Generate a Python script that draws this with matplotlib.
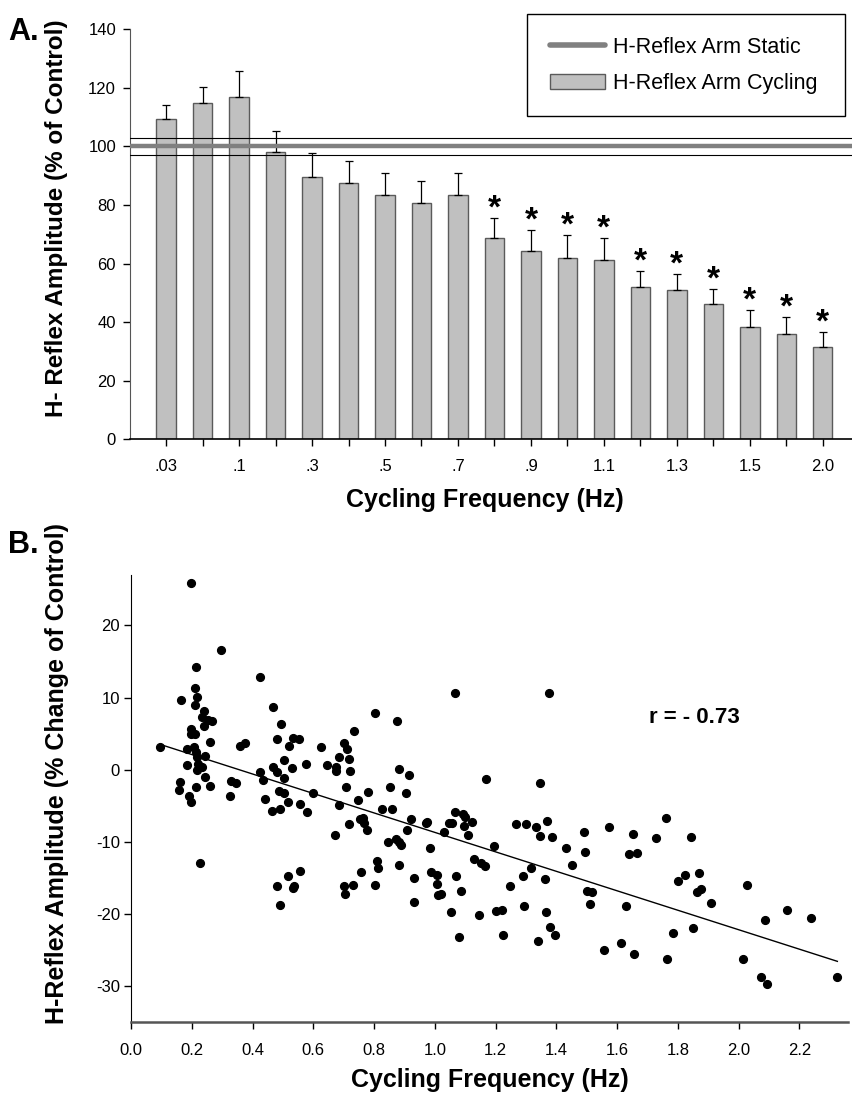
import matplotlib
matplotlib.use("Agg")
import matplotlib.pyplot as plt
from matplotlib.lines import Line2D
from matplotlib.patches import Patch
import numpy as np

plt.rcParams['font.family'] = ['Liberation Sans', 'DejaVu Sans']
plt.rcParams['axes.unicode_minus'] = False

# ---- panel A data ----
tick_labels = ['.03', '', '.1', '', '.3', '', '.5', '', '.7', '', '.9', '',
               '1.1', '', '1.3', '', '1.5', '', '2.0']
cycling_mean = [109.4, 114.7, 116.8, 98.1, 89.5, 87.5, 83.5, 80.8, 83.3, 68.8,
                64.2, 61.9, 61.3, 51.9, 51.1, 46.3, 38.4, 36.1, 31.4]
cycling_err = [4.8, 5.5, 8.8, 7.2, 8.3, 7.5, 7.4, 7.4, 7.6, 6.8,
               7.2, 7.9, 7.5, 5.6, 5.4, 5.1, 5.6, 5.7, 5.3]
significant = [False] * 9 + [True] * 10
static_mean = 100
static_sem = 3

# ---- panel B data ----
freq = [0.095, 0.197, 0.163, 0.214, 0.297, 0.423, 0.211, 0.218, 0.212, 0.241,
        0.233, 0.253, 0.267, 0.239, 0.199, 0.197, 0.211, 0.260, 0.185, 0.207,
        0.213, 0.218, 0.245, 0.184, 0.221, 0.235, 0.216, 0.243, 0.161, 0.158,
        0.214, 0.259, 0.191, 0.198, 0.226, 0.359, 0.375, 0.329, 0.344, 0.327,
        0.467, 0.493, 0.479, 0.520, 0.532, 0.554, 0.503, 0.530, 0.467, 0.482,
        0.423, 0.435, 0.503, 0.576, 0.625, 0.646, 0.675, 0.675, 0.685, 0.702,
        0.710, 0.718, 0.722, 0.734, 0.709, 0.781, 0.803, 0.851, 0.488, 0.503,
        0.599, 0.748, 0.440, 1.067, 1.376, 0.874, 0.882, 0.916, 0.905, 1.167,
        1.345, 0.463, 0.490, 0.516, 0.556, 0.580, 0.480, 0.490, 0.516, 0.533,
        0.538, 0.556, 0.673, 0.685, 0.701, 0.705, 0.718, 0.732, 0.756, 0.754,
        0.765, 0.767, 0.776, 0.802, 0.809, 0.812, 0.825, 0.845, 0.858, 0.871,
        0.881, 0.890, 0.882, 0.910, 0.921, 0.930, 0.930, 0.970, 0.974, 0.983,
        0.987, 1.006, 1.006, 1.009, 1.022, 1.030, 1.052, 1.047, 1.058, 1.065,
        1.071, 1.079, 1.086, 1.094, 1.098, 1.095, 1.108, 1.124, 1.129, 1.145,
        1.153, 1.164, 1.195, 1.201, 1.222, 1.225, 1.249, 1.268, 1.289, 1.292,
        1.300, 1.315, 1.332, 1.339, 1.345, 1.364, 1.367, 1.369, 1.379, 1.385,
        1.395, 1.432, 1.451, 1.491, 1.494, 1.500, 1.510, 1.518, 1.558, 1.572,
        1.614, 1.629, 1.638, 1.651, 1.656, 1.664, 1.728, 1.761, 1.763, 1.785,
        1.800, 1.824, 1.843, 1.851, 1.862, 1.870, 1.875, 1.909, 2.014, 2.026,
        2.075, 2.088, 2.093, 2.158, 2.239, 2.325]
change = [3.2, 25.9, 9.7, 14.3, 16.6, 12.8, 11.3, 10.1, 9.0, 8.1,
          7.3, 6.9, 6.7, 6.0, 5.6, 5.0, 5.0, 3.9, 2.9, 3.2,
          2.4, 1.8, 1.9, 0.6, 0.8, 0.3, 0.0, -1.0, -1.7, -2.8,
          -2.4, -2.3, -3.7, -4.5, -13.0, 3.3, 3.7, -1.6, -1.8, -3.6,
          8.7, 6.3, 4.2, 3.3, 4.4, 4.2, 1.4, 0.2, 0.3, -0.3,
          -0.3, -1.5, -1.2, 0.8, 3.1, 0.6, 0.4, -0.2, 1.8, 3.7,
          2.8, 1.5, -0.2, 5.3, -2.4, -3.1, 7.9, -2.4, -2.9, -3.2,
          -3.3, -4.2, -4.0, 10.6, 10.7, 6.8, 0.1, -0.8, -3.3, -1.3,
          -1.9, -5.7, -5.5, -4.5, -4.8, -5.9, -16.2, -18.8, -14.7, -16.4,
          -16.2, -14.1, -9.0, -4.9, -16.1, -17.2, -7.6, -16.0, -14.2, -6.9,
          -6.7, -7.4, -8.3, -16.0, -12.7, -13.6, -5.4, -10.1, -5.4, -9.6,
          -10.0, -10.5, -13.2, -8.4, -6.8, -15.0, -18.4, -7.4, -7.2, -10.8,
          -14.2, -14.6, -15.8, -17.4, -17.2, -8.7, -19.8, -7.4, -7.4, -5.9,
          -14.7, -23.2, -16.8, -6.2, -6.5, -7.8, -9.0, -7.3, -12.4, -20.2,
          -13.0, -13.3, -10.6, -19.6, -19.5, -23.0, -16.2, -7.5, -14.7, -18.9,
          -7.5, -13.7, -7.9, -23.7, -9.2, -15.2, -19.8, -7.1, -21.8, -9.4,
          -22.9, -10.9, -13.2, -8.7, -11.4, -16.8, -18.6, -17.0, -25.0, -8.0,
          -24.1, -18.9, -11.7, -8.9, -25.6, -11.6, -9.5, -6.7, -26.3, -22.7,
          -15.5, -14.6, -9.4, -21.9, -16.9, -14.3, -16.6, -18.5, -26.3, -16.0,
          -28.8, -20.8, -29.7, -19.4, -20.6, -28.7]
fit_intercept = 4.8
fit_slope = -13.5
r_value = -0.73

W, H = 852, 1110
fig = plt.figure(figsize=(W / 100, H / 100), dpi=100)


def rect(x0, y0, x1, y1):
    return [x0 / W, 1 - y1 / H, (x1 - x0) / W, (y1 - y0) / H]


def fpos(x, y):
    return x / W, 1 - y / H


# ================= panel A =================
ax = fig.add_axes(rect(130, 29.3, 852, 439.3))
x = np.arange(len(cycling_mean))
ax.bar(x, cycling_mean, width=0.53, color='#c0c0c0', edgecolor='#5a5a5a',
       linewidth=1.0, zorder=2)
ax.errorbar(x, cycling_mean, yerr=[np.zeros(len(x)), cycling_err], fmt='none',
            ecolor='black', elinewidth=0.9, capsize=3, capthick=0.9, zorder=3)
ax.axhline(static_mean, color='#808080', lw=3.2, zorder=4)
ax.axhline(static_mean + static_sem, color='black', lw=0.8, zorder=4)
ax.axhline(static_mean - static_sem, color='black', lw=0.8, zorder=4)
for xi, m, e, s in zip(x, cycling_mean, cycling_err, significant):
    if s:
        ax.text(xi, m + e - 2.2, '*', ha='center', va='bottom', fontsize=24,
                fontweight='bold')

ax.set_xlim(-0.99, 18.8)
ax.set_ylim(0, 140)
ax.set_yticks(range(0, 141, 20))
ax.set_xticks(x)
ax.set_xticklabels(tick_labels)
ax.tick_params(axis='both', direction='out', length=5, width=1, labelsize=12)
ax.tick_params(axis='x', pad=9)
ax.tick_params(axis='y', pad=5)
for sp in ['top', 'right']:
    ax.spines[sp].set_visible(False)
ax.spines['left'].set_color('#555555')
ax.spines['bottom'].set_linewidth(1.2)

handles = [Line2D([0], [0], color='#808080', lw=4, solid_capstyle='round'),
           Patch(facecolor='#c0c0c0', edgecolor='#5a5a5a', linewidth=1.0)]
leg = ax.legend(handles, ['H-Reflex Arm Static', 'H-Reflex Arm Cycling'],
                loc='upper left', mode='expand',
                bbox_to_anchor=rect(527, 14, 845, 110),
                bbox_transform=fig.transFigure, fontsize=15.5, frameon=True,
                fancybox=False, framealpha=1, edgecolor='black',
                handlelength=2.55, handletextpad=0.4, borderpad=1.05,
                labelspacing=0.7, borderaxespad=0)
leg.get_frame().set_linewidth(1.0)

fig.text(*fpos(485, 500), 'Cycling Frequency (Hz)', ha='center', va='center',
         fontsize=18, fontweight='bold')
fig.text(*fpos(57, 218), 'H- Reflex Amplitude (% of Control)', ha='center',
         va='center', rotation=90, fontsize=17.5, fontweight='bold')
fig.text(*fpos(8, 32), 'A.', ha='left', va='center', fontsize=22,
         fontweight='bold')

# ================= panel B =================
bx = fig.add_axes(rect(131, 575, 848, 1022))
bx.plot(freq, change, 'o', color='black', ms=5.6, zorder=3)
fx = np.array([min(freq), max(freq)])
bx.plot(fx, fit_intercept + fit_slope * fx, color='black', lw=1.0, zorder=2)
bx.text(1.855, 7.3, 'r = - %.2f' % abs(r_value), ha='center', va='center',
        fontsize=16, fontweight='bold')

bx.set_xlim(0, 2.36)
bx.set_ylim(-35, 27)
bx.set_xticks(np.arange(0, 2.21, 0.2))
bx.set_xticklabels(['%.1f' % v for v in np.arange(0, 2.21, 0.2)])
bx.set_yticks([-30, -20, -10, 0, 10, 20])
bx.tick_params(axis='both', direction='out', length=5, width=1, labelsize=12)
bx.tick_params(axis='x', pad=10)
bx.tick_params(axis='y', pad=3)
for sp in ['top', 'right']:
    bx.spines[sp].set_visible(False)
bx.spines['bottom'].set_color('#555555')
bx.spines['bottom'].set_linewidth(1.8)

fig.text(*fpos(490, 1080), 'Cycling Frequency (Hz)', ha='center', va='center',
         fontsize=18, fontweight='bold')
fig.text(*fpos(57, 773), 'H-Reflex Amplitude (% Change of Control)',
         ha='center', va='center', rotation=90, fontsize=18,
         fontweight='bold')
fig.text(*fpos(8, 545), 'B.', ha='left', va='center', fontsize=22,
         fontweight='bold')

fig.savefig('out.png', dpi=100)
